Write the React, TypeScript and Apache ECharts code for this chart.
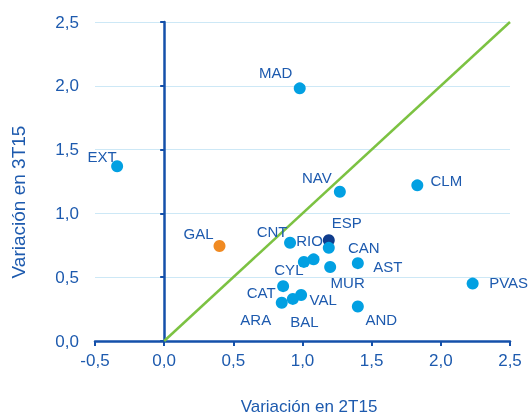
import React, { useEffect, useRef } from "react";
import * as echarts from "echarts";

// Regions: variation in 2T15 (x) vs variation in 3T15 (y)
const regionNames = ["EXT", "MAD", "NAV", "CLM", "CNT", "RIO", "CAN", "CYL", "MUR", "AST", "PVAS", "CAT", "VAL", "BAL", "ARA", "AND"];
const regionX = [-0.34, 0.98, 1.27, 1.83, 0.91, 1.08, 1.19, 1.01, 1.20, 1.40, 2.23, 0.86, 0.99, 0.93, 0.85, 1.40];
const regionY = [1.37, 1.98, 1.17, 1.22, 0.77, 0.64, 0.73, 0.62, 0.58, 0.61, 0.45, 0.43, 0.36, 0.33, 0.30, 0.27];

const espName = ["ESP"];
const espX = [1.19];
const espY = [0.79];

const galName = ["GAL"];
const galX = [0.40];
const galY = [0.745];

const diagonal = [[0, 0], [2.5, 2.5]];

const xTicks = { min: -0.5, max: 2.5, interval: 0.5 };
const yTicks = { min: 0, max: 2.5, interval: 0.5 };

const xAxisTitle = "Variación en 2T15";
const yAxisTitle = "Variación en 3T15";

// label placement (pixel offsets from point centre) — layout only
const labelOffsets: Record<string, [number, number]> = {
  EXT: [-15, -10], MAD: [-24, -16], NAV: [-23, -14], CLM: [29, -5], CNT: [-18, -11],
  RIO: [-4, -19], CAN: [35, 0], CYL: [-15, 7.5], MUR: [17.5, 16], AST: [30, 3],
  PVAS: [36, -1.5], CAT: [-22, 6], VAL: [22, 4.5], BAL: [11.5, 22.5], ARA: [-26, 16.5],
  AND: [23.5, 12.5], ESP: [18, -18], GAL: [-21, -12],
};

const TEXT = "#1D5AAE";
const AXIS = "#1450AA";
const GRID = "#CDE8F6";
const CYAN = "#02A0E2";
const NAVY = "#0F3C8C";
const ORANGE = "#F08A22";
const GREEN = "#7CC242";
const FONT = "'Liberation Sans', Arial, sans-serif";

const fmt = (v: number) => v.toFixed(1).replace(".", ",");

function buildPoints(names: string[], xs: number[], ys: number[]) {
  return names.map((n, i) => ({
    name: n,
    value: [xs[i], ys[i]],
    label: { offset: labelOffsets[n] || [0, 0] },
  }));
}

export default function App() {
  const ref = useRef<HTMLDivElement>(null);
  useEffect(() => {
    if (!ref.current) return;
    const chart = echarts.init(ref.current, undefined, { renderer: "svg" });
    const pointLabel = {
      show: true,
      position: "inside",
      formatter: "{b}",
      color: TEXT,
      fontSize: 15,
      fontFamily: FONT,
    };
    chart.setOption({
      animation: false,
      textStyle: { fontFamily: FONT },
      grid: { left: 95, right: 21, top: 22, bottom: 76, containLabel: false },
      xAxis: {
        type: "value",
        min: xTicks.min,
        max: xTicks.max,
        interval: xTicks.interval,
        axisLine: { show: true, onZero: true, lineStyle: { color: AXIS, width: 2.5 } },
        axisTick: { show: true, length: 5, lineStyle: { color: AXIS, width: 2 } },
        axisLabel: { color: TEXT, fontSize: 17, margin: 11, formatter: fmt, fontFamily: FONT },
        splitLine: { show: false },
      },
      yAxis: [
        {
          type: "value",
          position: "left",
          min: yTicks.min,
          max: yTicks.max,
          interval: yTicks.interval,
          axisLine: { show: false, onZero: false },
          axisTick: { show: false },
          axisLabel: { color: TEXT, fontSize: 17, margin: 16, formatter: fmt, fontFamily: FONT },
          splitLine: { show: true, lineStyle: { color: GRID, width: 1 } },
        },
        {
          type: "value",
          position: "left",
          min: yTicks.min,
          max: yTicks.max,
          interval: yTicks.interval,
          axisLine: { show: true, onZero: true, lineStyle: { color: AXIS, width: 2.5 } },
          axisTick: { show: true, length: 4, lineStyle: { color: AXIS, width: 2 } },
          axisLabel: { show: false },
          splitLine: { show: false },
        },
      ],
      graphic: [
        {
          type: "text",
          x: 309,
          y: 406,
          style: { text: xAxisTitle, fill: TEXT, fontSize: 17, fontFamily: FONT, align: "center", verticalAlign: "middle" },
        },
        {
          type: "text",
          x: 18,
          y: 202,
          rotation: Math.PI / 2,
          style: { text: yAxisTitle, fill: TEXT, fontSize: 19, fontFamily: FONT, align: "center", verticalAlign: "middle" },
        },
      ],
      series: [
        {
          type: "line",
          data: diagonal,
          showSymbol: false,
          symbol: "none",
          lineStyle: { color: GREEN, width: 2.5 },
          z: 1,
          silent: true,
        },
        {
          type: "scatter",
          data: buildPoints(espName, espX, espY),
          symbolSize: 12,
          itemStyle: { color: NAVY, opacity: 1 },
          label: pointLabel,
          z: 2,
        },
        {
          type: "scatter",
          data: buildPoints(regionNames, regionX, regionY),
          symbolSize: 12,
          itemStyle: { color: CYAN, opacity: 1 },
          label: pointLabel,
          z: 3,
        },
        {
          type: "scatter",
          data: buildPoints(galName, galX, galY),
          symbolSize: 12,
          itemStyle: { color: ORANGE, opacity: 1 },
          label: pointLabel,
          z: 3,
        },
      ],
    });
    return () => chart.dispose();
  }, []);
  return <div ref={ref} style={{ position: "fixed", left: 0, top: 0, width: 531, height: 417 }} />;
}
